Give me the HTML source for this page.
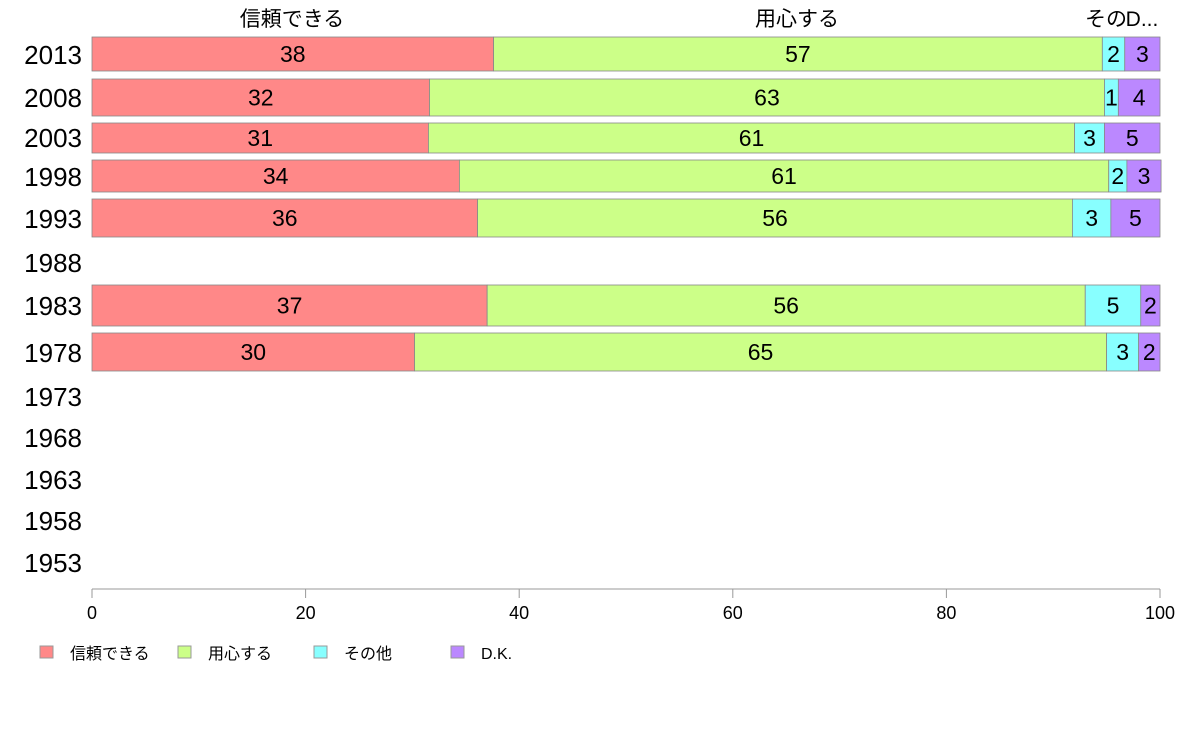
<!DOCTYPE html>
<html><head><meta charset="utf-8"><style>
html,body{margin:0;padding:0;background:#fff;width:1188px;height:736px;overflow:hidden}
text{font-family:"Liberation Sans","Noto Sans CJK JP",sans-serif}
</style></head><body>
<svg id="chart" width="1188" height="736" viewBox="0 0 1188 736" xmlns="http://www.w3.org/2000/svg"></svg>
<script>
const years = ["2013","2008","2003","1998","1993","1988","1983","1978","1973","1968","1963","1958","1953"];
const yearY = [55,98,138,177,219,263,306,353,397,438,480,521,563];
const barTop = [37,79,123,160,199,null,285,333,null,null,null,null,null];
const barBot = [71,116,153,192,237,null,326,371,null,null,null,null,null];
const seriesNames = ["信頼できる","用心する","その他","D.K."];
const trust  = [37.6,31.6,31.5,34.4,36.1,null,37.0,30.2,null,null,null,null,null];
const careful= [57.0,63.2,60.5,60.8,55.7,null,56.0,64.8,null,null,null,null,null];
const other  = [2.1,1.3,2.8,1.7,3.6,null,5.2,3.0,null,null,null,null,null];
const dk     = [3.3,3.9,5.2,3.2,4.6,null,1.8,2.0,null,null,null,null,null];
const trustLbl  = [38,32,31,34,36,null,37,30];
const carefulLbl= [57,63,61,61,56,null,56,65];
const otherLbl  = [2,1,3,2,3,null,5,3];
const dkLbl     = [3,4,5,3,5,null,2,2];
const xTicks = [0,20,40,60,80,100];
const colors = ["#ff8888","#ccff88","#88ffff","#bb88ff"];
const strokes = ["#c06060","#90b060","#60b0b0","#8860c0"];

const svg = document.getElementById('chart');
const NS = "http://www.w3.org/2000/svg";
const x0 = 92, x1 = 1160;
const xs = v => x0 + (x1 - x0) * v / 100;
function mk(tag, attrs, txt){
  const e = document.createElementNS(NS, tag);
  for (const k in attrs) e.setAttribute(k, attrs[k]);
  if (txt !== undefined) e.textContent = txt;
  svg.appendChild(e);
  return e;
}
// year labels
years.forEach((y,i)=>{
  const t = mk('text',{x:82,y:yearY[i]+9,'text-anchor':'end','font-size':26,fill:'#000'},y);
  
  
});
// bars
const series = [trust, careful, other, dk];
const labels = [trustLbl, carefulLbl, otherLbl, dkLbl];
years.forEach((y,i)=>{
  if (trust[i] == null) return;
  let cum = 0;
  series.forEach((s,j)=>{
    const a = xs(cum), b = xs(cum + s[i]);
    const r = mk('rect',{x:a,y:barTop[i],width:b-a,height:barBot[i]-barTop[i],fill:colors[j],stroke:'#888','stroke-width':0.8});
    
    
    const t = mk('text',{x:(a+b)/2,y:(barTop[i]+barBot[i])/2+8,'text-anchor':'middle','font-size':23,fill:'#000'},labels[j][i]);
    
    
    cum += s[i];
  });
});
// top headers
[["信頼できる",292],["用心する",797],["その",1106],["D...",1142]].forEach((h,i)=>{
  const t = mk('text',{x:h[1],y:26,'text-anchor':'middle','font-size':21,fill:'#000'},h[0]);
  
  
});
// x axis
const ax = mk('line',{x1:x0,y1:589,x2:x1,y2:589,stroke:'#999','stroke-width':1});


xTicks.forEach(v=>{
  const l = mk('line',{x1:xs(v),y1:589,x2:xs(v),y2:598,stroke:'#999','stroke-width':1});
  
  
  const t = mk('text',{x:xs(v),y:619,'text-anchor':'middle','font-size':18,fill:'#000'},v);
  
  
});
// legend
const legX = [40,178,314,451];
seriesNames.forEach((n,j)=>{
  const r = mk('rect',{x:legX[j],y:646,width:13,height:12,fill:colors[j],stroke:'#999','stroke-width':1});
  
  
  const t = mk('text',{x:legX[j]+30,y:659,'font-size':16,fill:'#000'},n);
  
  
});
</script>
</body></html>
